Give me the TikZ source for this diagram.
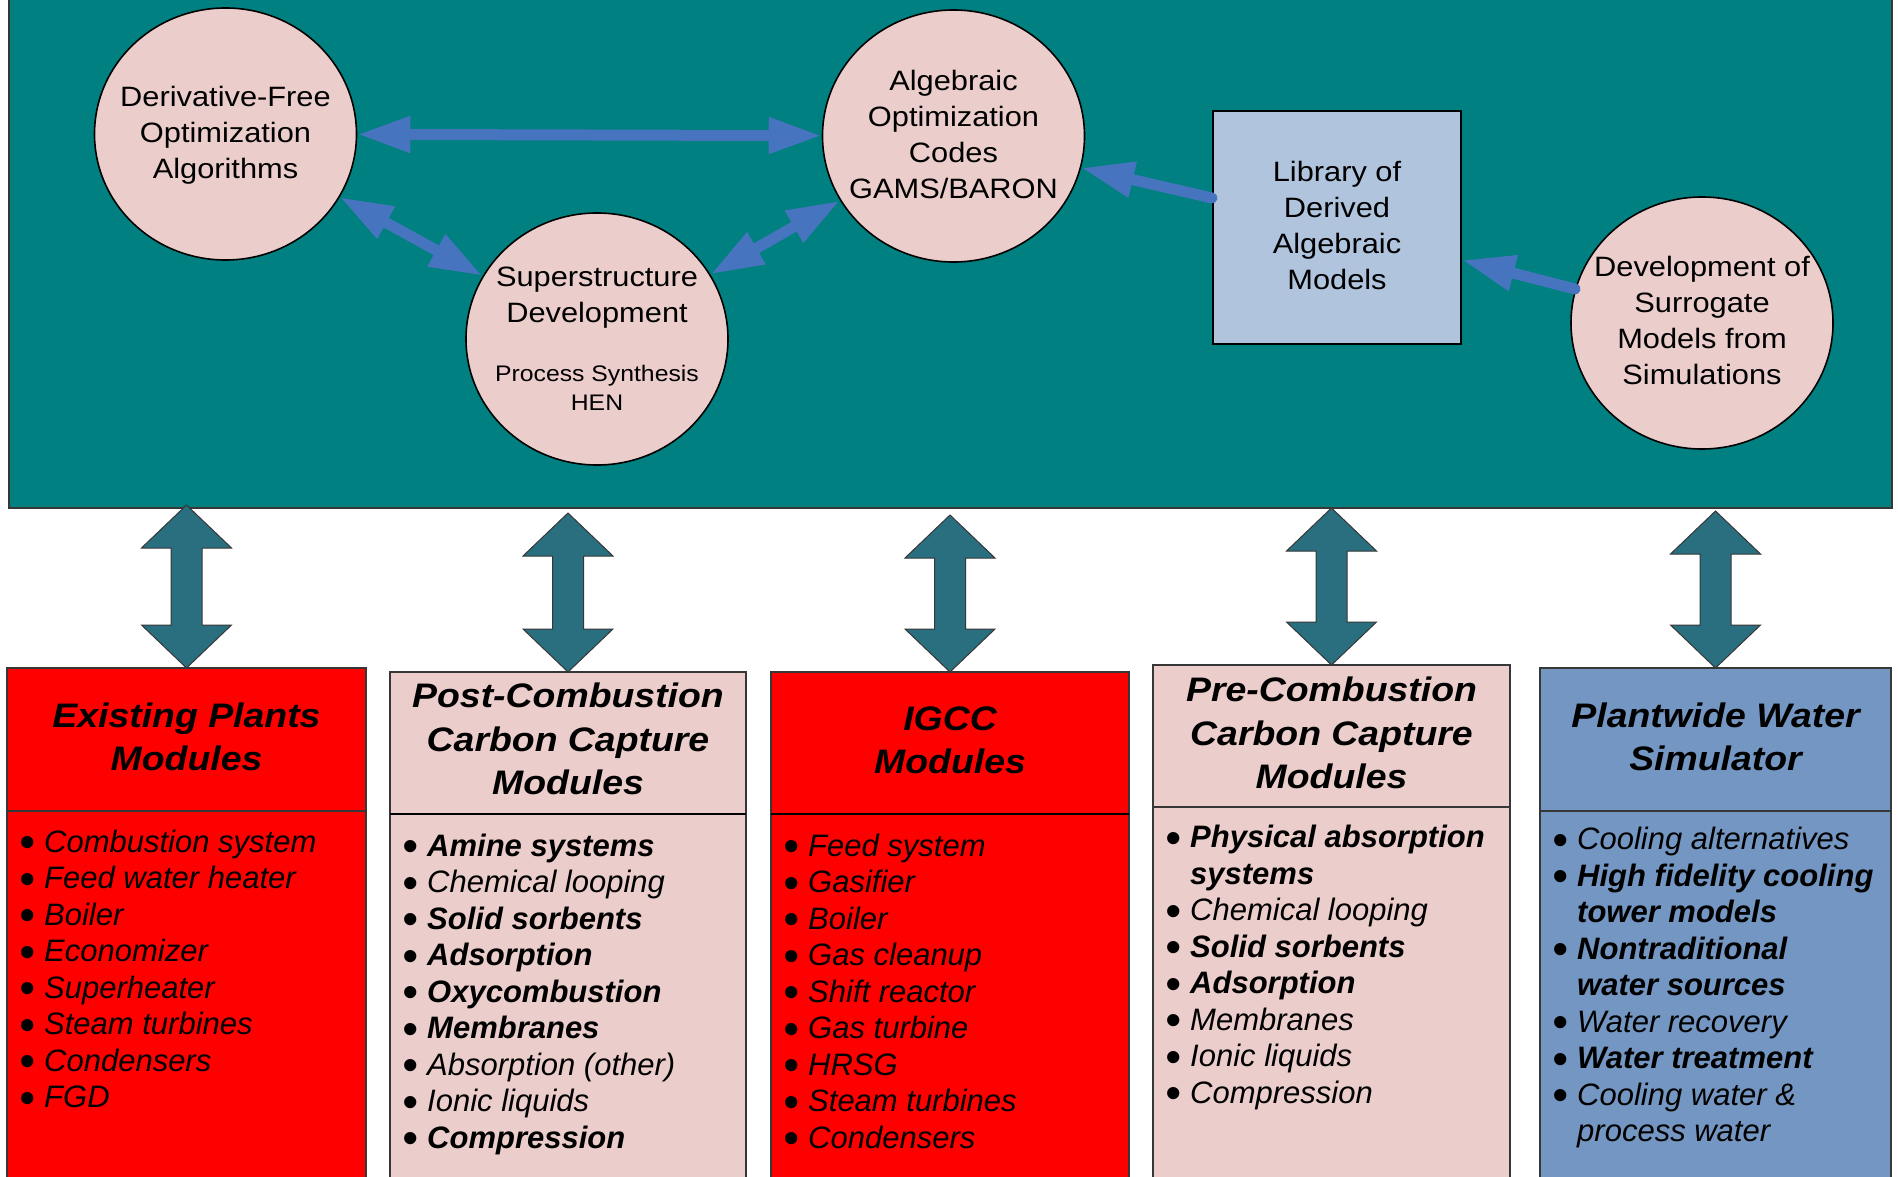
\documentclass[tikz,border=0pt]{standalone}
\usepackage{graphicx}
\usepackage{fontspec}
\setmainfont{Liberation Sans}
\newfontfamily\cfont{Liberation Sans}[FakeStretch=1.1]
\newfontfamily\hdfont{Liberation Sans}[FakeStretch=1.1]
\usetikzlibrary{shapes.geometric,arrows.meta}
\definecolor{panelc}{RGB}{0,128,128}
\definecolor{pinkc}{RGB}{235,206,204}
\definecolor{bluec}{RGB}{70,116,190}
\definecolor{libc}{RGB}{176,196,222}
\definecolor{dteal}{RGB}{42,111,128}
\definecolor{redc}{RGB}{255,0,0}
\definecolor{steelc}{RGB}{116,150,194}
\definecolor{edgec}{RGB}{55,55,55}
\newcommand\bu{\makebox[25pt][l]{\raisebox{-5.5pt}{\scalebox{1.45}{\textbullet}}}}
\newcommand\tealarrow[2]{\draw[bigarr] (#1.north) -- ++(45,-43) -- ++(-29.5,0) -- ++(0,{86-#2}) -- ++(29.5,0) -- ++(-45,-43) -- ++(-45,43) -- ++(29.5,0) -- ++(0,{#2-86}) -- ++(-29.5,0) -- cycle;}
\tikzset{
  circ/.style={ellipse, draw=black, line width=1.6pt, fill=pinkc, inner sep=0pt, minimum width=262pt, minimum height=252pt},
  ctxt/.style={align=center, inner sep=0pt, font={\cfont\fontsize{28}{36}\selectfont}},
  cstxt/.style={align=center, inner sep=0pt, font={\cfont\fontsize{22.5}{29}\selectfont}},
  libbox/.style={rectangle, draw=black, line width=2pt, fill=libc, inner sep=0pt, minimum width=248pt, minimum height=233pt},
  barrow/.style={draw=bluec, line width=11pt, {Triangle[length={53pt 0 0},width={34pt 0 0}]}-{Triangle[length={53pt 0 0},width={34pt 0 0}]}},
  sarrow/.style={draw=bluec, line width=11pt, line cap=round, -{Triangle[length={53pt 0 0},width={34pt 0 0}]}},
  modbox/.style={rectangle, draw=edgec, line width=1.5pt, anchor=north west, inner sep=0pt, outer sep=0pt, minimum height=530pt},
  divider/.style={draw=edgec, line width=2pt},
  hdr/.style={align=center, inner sep=0pt, font={\hdfont\bfseries\itshape\fontsize{34}{43.5}\selectfont}},
  lst/.style={anchor=base west, inner sep=0pt, font={\fontsize{31}{36.5}\selectfont\itshape}},
  bigarr/.style={fill=dteal, draw=edgec, line width=1pt, line join=miter}
}
\begin{document}
\begin{tikzpicture}[x=1pt,y=-1pt]
\useasboundingbox (0,0) rectangle (1898,1177);
\fill[white] (0,0) rectangle (1898,1177);
% top panel
\path[fill=panelc, draw=edgec, line width=2pt] (9,-5) rectangle (1892,508);
% circles
\node[circ] (df) at (225.5,134) {};
\node[ctxt] (dft) at (225.5,134.8) {Derivative-Free\\Optimization\\Algorithms};
\node[circ] (sup) at (597,339) {};
\node[ctxt] (supt) at (597,297.7) {Superstructure\\Development};
\node[cstxt] (sups) at (597,388.3) {Process Synthesis\\HEN};
\node[circ] (alg) at (953.5,136) {};
\node[ctxt] (algt) at (953.5,134.8) {Algebraic\\Optimization\\Codes\\GAMS/BARON};
\node[libbox] (lib) at (1337,227.5) {};
\node[ctxt] (libt) at (1337,225.8) {Library of\\Derived\\Algebraic\\Models};
\node[circ] (sur) at (1702,323) {};
\node[ctxt] (surt) at (1702,320.8) {Development of\\Surrogate\\Models from\\Simulations};
% blue arrows
\draw[barrow] (df) -- (alg);
\draw[barrow] (df) -- (sup);
\draw[barrow] (sup) -- (alg);
\draw[sarrow] ([yshift=29.5pt]lib.west) -- (alg.-14);
\draw[sarrow] (sur.165.3) -- ([yshift=-32.5pt]lib.east);
% module boxes
\node[modbox, fill=redc, minimum width=359pt] (b1) at (7,668) {};
\node[modbox, fill=pinkc, minimum width=356pt] (b2) at (390,672) {};
\node[modbox, fill=redc, minimum width=358pt] (b3) at (771,672) {};
\node[modbox, fill=pinkc, minimum width=357pt] (b4) at (1153,665) {};
\node[modbox, fill=steelc, minimum width=351pt] (b5) at (1540,668) {};
\draw[divider] ([yshift=-143pt]b1.north west) -- ([yshift=-143pt]b1.north east);
\draw[divider, draw=black] ([yshift=-142pt]b2.north west) -- ([yshift=-142pt]b2.north east);
\draw[divider, draw=black] ([yshift=-142pt]b3.north west) -- ([yshift=-142pt]b3.north east);
\draw[divider] ([yshift=-142pt]b4.north west) -- ([yshift=-142pt]b4.north east);
\draw[divider] ([yshift=-143pt]b5.north west) -- ([yshift=-143pt]b5.north east);
% teal double arrows
\tealarrow{b1}{163}
\tealarrow{b2}{159}
\tealarrow{b3}{157}
\tealarrow{b4}{157}
\tealarrow{b5}{157}
% headers
\node[hdr] (h1) at (186.5,736.6) {Existing Plants\\Modules};
\node[hdr] (h2) at (568,739.1) {Post-Combustion\\Carbon Capture\\Modules};
\node[hdr] (h3) at (950,740.3) {IGCC\\Modules};
\node[hdr] (h4) at (1331.5,733) {Pre-Combustion\\Carbon Capture\\Modules};
\node[hdr] (h5) at (1715.5,737) {Plantwide Water\\Simulator};
% lists
\node[lst] (l1) at (19,852) {\begin{tabular}[t]{@{}l@{}l@{}}
\bu & Combustion system\\
\bu & Feed water heater\\
\bu & Boiler\\
\bu & Economizer\\
\bu & Superheater\\
\bu & Steam turbines\\
\bu & Condensers\\
\bu & FGD
\end{tabular}};
\node[lst] (l2) at (402,856) {\begin{tabular}[t]{@{}l@{}l@{}}
\bu & \textbf{Amine systems}\\
\bu & Chemical looping\\
\bu & \textbf{Solid sorbents}\\
\bu & \textbf{Adsorption}\\
\bu & \textbf{Oxycombustion}\\
\bu & \textbf{Membranes}\\
\bu & Absorption (other)\\
\bu & Ionic liquids\\
\bu & \textbf{Compression}
\end{tabular}};
\node[lst] (l3) at (783,856) {\begin{tabular}[t]{@{}l@{}l@{}}
\bu & Feed system\\
\bu & Gasifier\\
\bu & Boiler\\
\bu & Gas cleanup\\
\bu & Shift reactor\\
\bu & Gas turbine\\
\bu & HRSG\\
\bu & Steam turbines\\
\bu & Condensers
\end{tabular}};
\node[lst] (l4) at (1165,847.5) {\begin{tabular}[t]{@{}l@{}l@{}}
\bu & \textbf{Physical absorption}\\
 & \textbf{systems}\\
\bu & Chemical looping\\
\bu & \textbf{Solid sorbents}\\
\bu & \textbf{Adsorption}\\
\bu & Membranes\\
\bu & Ionic liquids\\
\bu & Compression
\end{tabular}};
\node[lst] (l5) at (1552,849.6) {\begin{tabular}[t]{@{}l@{}l@{}}
\bu & Cooling alternatives\\
\bu & \textbf{High fidelity cooling}\\
 & \textbf{tower models}\\
\bu & \textbf{Nontraditional}\\
 & \textbf{water sources}\\
\bu & Water recovery\\
\bu & \textbf{Water treatment}\\
\bu & Cooling water \&\\
 & process water
\end{tabular}};
\end{tikzpicture}
\end{document}
